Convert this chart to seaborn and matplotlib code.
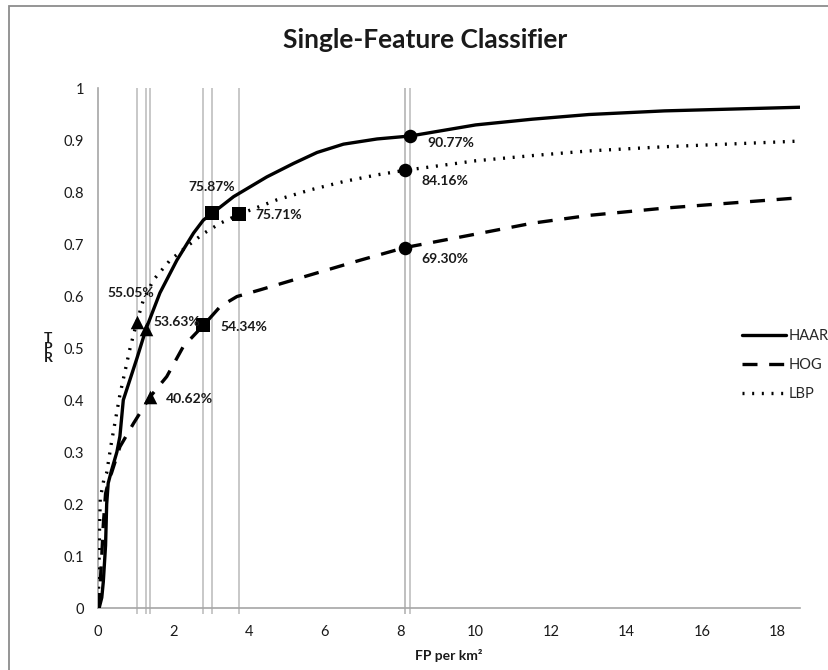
import numpy as np
import pandas as pd
import matplotlib
matplotlib.use("Agg")
import matplotlib.pyplot as plt
import seaborn as sns
from matplotlib.patches import Rectangle

# curves (FP per km^2, TPR)
haar_fp = [0.03, 0.1, 0.14, 0.2, 0.23, 0.27, 0.36, 0.5, 0.58, 0.67, 0.85, 1.03, 1.27, 1.64, 2.09,
           2.53, 2.79, 3.02, 3.59, 4.47, 5.18, 5.8, 6.5, 7.39, 8.27, 10, 11.5, 13, 15, 18.6]
haar_tpr = [0.0, 0.02, 0.05, 0.12, 0.2, 0.24, 0.265, 0.3, 0.33, 0.4, 0.44, 0.48, 0.5363, 0.606, 0.669,
            0.721, 0.746, 0.7587, 0.791, 0.829, 0.855, 0.876, 0.892, 0.902, 0.9077, 0.929, 0.94, 0.949, 0.956, 0.963]

hog_fp = [0.02, 0.06, 0.1, 0.14, 0.2, 0.3, 0.36, 0.58, 0.94, 1.38, 1.82, 2.26, 2.79, 3.24, 3.68,
          4.3, 5.18, 6.06, 6.95, 8.12, 10, 11.5, 13, 15, 18.6]
hog_tpr = [0.0, 0.05, 0.1, 0.16, 0.22, 0.25, 0.26, 0.31, 0.355, 0.4062, 0.445, 0.503, 0.5434, 0.58, 0.599,
           0.612, 0.631, 0.65, 0.669, 0.693, 0.719, 0.74, 0.755, 0.769, 0.789]

lbp_fp = [0.0, 0.02, 0.04, 0.06, 0.15, 0.23, 0.36, 0.58, 0.85, 1.03, 1.2, 1.47, 1.91, 2.35, 2.79,
          3.24, 3.74, 4.74, 5.62, 6.5, 7.39, 8.12, 10, 11.5, 13, 15, 18.6]
lbp_tpr = [0.0, 0.05, 0.15, 0.21, 0.245, 0.26, 0.32, 0.41, 0.5, 0.5505, 0.592, 0.631, 0.669, 0.695, 0.72,
           0.74, 0.7571, 0.785, 0.804, 0.82, 0.833, 0.8416, 0.86, 0.87, 0.879, 0.887, 0.898]

# operating points marked on the curves
mark_fp = [1.03, 1.27, 1.38, 2.79, 3.02, 3.74, 8.12, 8.12, 8.27]
mark_tpr = [0.5505, 0.5363, 0.4062, 0.5434, 0.7587, 0.7571, 0.8416, 0.6930, 0.9077]
mark_shape = ['^', '^', '^', 's', 's', 's', 'o', 'o', 'o']
mark_label = ['55.05%', '53.63%', '40.62%', '54.34%', '75.87%', '75.71%', '84.16%', '69.30%', '90.77%']

sns.set_style("white")
plt.rcParams['font.family'] = ['Lato', 'DejaVu Sans']

fig = plt.figure(figsize=(8.29, 6.7), dpi=100)
ax = fig.add_axes([98 / 829, 1 - 608 / 670, 702 / 829, 520 / 670])

grey = '#a6a6a6'

# vertical reference lines at each operating point
ax.vlines(mark_fp, -0.012, 1.0, colors='#bfbfbf', linewidth=1.2, clip_on=False, zorder=1)

curves = [('HAAR', haar_fp, haar_tpr, '-'),
          ('HOG', hog_fp, hog_tpr, (0, (4.5, 3.5))),
          ('LBP', lbp_fp, lbp_tpr, (0, (0.6, 2.3)))]
for name, fp, tpr, ls in curves:
    df = pd.DataFrame({'FP': fp, 'TPR': tpr})
    sns.lineplot(data=df, x='FP', y='TPR', ax=ax, color='black', linewidth=2.4,
                 linestyle=ls, estimator=None, sort=False, label=name, zorder=3)

marks = pd.DataFrame({'FP': mark_fp, 'TPR': mark_tpr, 'shape': mark_shape})
for shape, sub in marks.groupby('shape'):
    sns.scatterplot(data=sub, x='FP', y='TPR', ax=ax, marker=shape, s=95, color='black',
                    edgecolor='black', linewidth=0, zorder=4, legend=False)

# label offsets in pixels (dx, dy, ha)
offsets = [(-6, 29, 'center'), (7, 7, 'left'), (16, -2, 'left'), (17, -2, 'left'),
           (0, 26, 'center'), (16, -1, 'left'), (17, -11, 'left'), (17, -11, 'left'), (17, -7, 'left')]
for x, y, lab, (dx, dy, ha) in zip(mark_fp, mark_tpr, mark_label, offsets):
    ax.annotate(lab, (x, y), xytext=(dx, dy), textcoords='offset pixels', ha=ha, va='center',
                fontsize=10, fontweight='bold', color='#1a1a1a', zorder=5)

ax.set_xlim(0, 18.59)
ax.set_ylim(0, 1)
ax.set_xticks(np.arange(0, 19, 2))
ax.set_yticks(np.arange(0, 1.01, 0.1))
ax.set_yticklabels(['0'] + ['%.1f' % v for v in np.arange(0.1, 1.0, 0.1)] + ['1'])
ax.tick_params(axis='both', direction='out', length=5, width=1, color=grey,
               labelsize=10.5, labelcolor='#1a1a1a', pad=5)
ax.tick_params(axis='x', pad=7)
for side in ['top', 'right']:
    ax.spines[side].set_visible(False)
for side in ['left', 'bottom']:
    ax.spines[side].set_color(grey)
    ax.spines[side].set_linewidth(1.2)

ax.set_xlabel('')
ax.set_ylabel('')
fig.text(449 / 829, 1 - 655 / 670, 'FP per km²', ha='center', va='center',
         fontsize=10, fontweight='bold', color='#1a1a1a')
fig.text(48 / 829, 1 - 348 / 670, 'T\nP\nR', ha='center', va='center',
         fontsize=10, fontweight='bold', color='#1a1a1a', linespacing=0.8)
fig.text(425 / 829, 1 - 40 / 670, 'Single-Feature Classifier', ha='center', va='center',
         fontsize=19, fontweight='bold', color='#1a1a1a')

leg = ax.legend(loc='upper left', bbox_to_anchor=(736 / 829, 1 - 323 / 670),
                bbox_transform=fig.transFigure, frameon=False, fontsize=10.5,
                handlelength=3.0, handletextpad=0.2, labelspacing=1.05, borderaxespad=0)

# outer chart border (left and top visible)
fig.patches.append(Rectangle((9 / 829, -0.1), 1.2, 1 - 6 / 670 + 0.1, transform=fig.transFigure,
                             fill=False, edgecolor='#8c8c8c', linewidth=1.3))

plt.savefig('out.png', dpi=100)
